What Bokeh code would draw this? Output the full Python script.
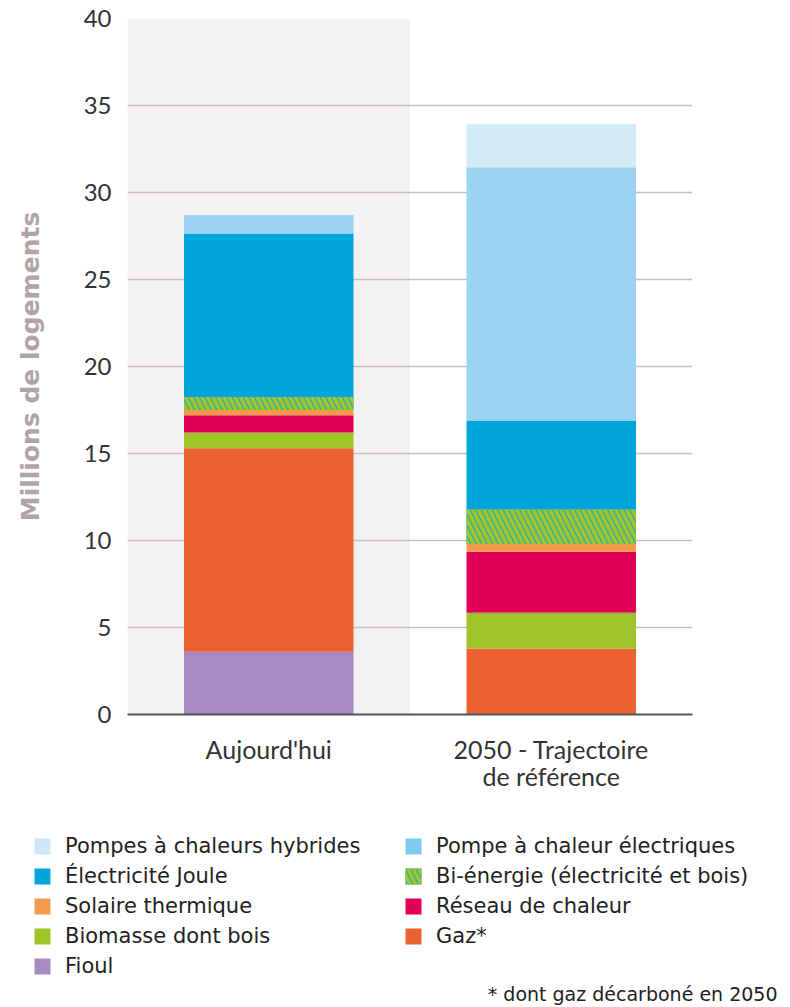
from bokeh.plotting import figure
from bokeh.models import (ColumnDataSource, FactorRange, Range1d, BoxAnnotation,
                          Legend, LegendItem, Label, FixedTicker)
from bokeh.transform import stack
from bokeh.embed import file_html
from bokeh.resources import INLINE

categories = ["Aujourd'hui", "2050 - Trajectoire\nde référence"]
series = ["Fioul", "Gaz*", "Biomasse dont bois", "Réseau de chaleur",
          "Solaire thermique", "Bi-énergie (électricité et bois)",
          "Électricité Joule", "Pompe à chaleur électriques",
          "Pompes à chaleurs hybrides"]
fioul = [3.6, 0.0]
gaz = [11.7, 3.8]
biomasse = [0.9, 2.05]
reseau = [1.0, 3.5]
solaire = [0.3, 0.45]
bienergie = [0.75, 2.0]
joule = [9.4, 5.1]
pac = [1.05, 14.55]
hybrides = [0.0, 2.5]
y_ticks = [0, 5, 10, 15, 20, 25, 30, 35, 40]
footnote = "* dont gaz décarboné en 2050"

colors = ["#a78abf", "#eb6232", "#a0c42a", "#df0058", "#f39b4b",
          "#00a4dc", "#00a4dc", "#9ad3f0", "#d4ebf8"]
legend_colors = ["#a78abf", "#eb6232", "#a0c42a", "#df0058", "#f39b4b",
                 "#00a4dc", "#00a4dc", "#7fcaee", "#cde8f8"]
HATCH = dict(hatch_pattern="left_diagonal_line", hatch_color="#a0c42a",
             hatch_weight=4, hatch_scale=11)

keys = ["fioul", "gaz", "biomasse", "reseau", "solaire", "bi", "joule", "pac", "hyb"]
src = ColumnDataSource(dict(cat=categories, fioul=fioul, gaz=gaz, biomasse=biomasse,
                            reseau=reseau, solaire=solaire, bi=bienergie, joule=joule,
                            pac=pac, hyb=hybrides))

# ---------------- main chart ----------------
p = figure(x_range=FactorRange(factors=categories, range_padding=0),
           y_range=Range1d(0, 40), width=774, height=808,
           output_backend="svg", toolbar_location=None,
           min_border_left=127, min_border_right=82, min_border_top=18,
           min_border_bottom=94)
p.outline_line_color = None
p.background_fill_color = "white"

p.add_layout(BoxAnnotation(left=0, right=1, fill_color="#f3f1f2", fill_alpha=1,
                           line_color=None, level="image"))

for i, k in enumerate(keys):
    bottom_keys = keys[:i]
    kw = HATCH if k == "bi" else {}
    p.vbar(x="cat", width=0.6, bottom=stack(*bottom_keys) if bottom_keys else 0,
           top=stack(*keys[:i + 1]), source=src, fill_color=colors[i],
           line_color=None, **kw)

p.ygrid.ticker = FixedTicker(ticks=y_ticks)
p.ygrid.grid_line_color = "#c9bec2"
p.ygrid.grid_line_width = 1.5
p.xgrid.grid_line_color = None

p.yaxis.ticker = FixedTicker(ticks=y_ticks)
p.yaxis.axis_line_color = None
p.yaxis.major_tick_line_color = None
p.yaxis.minor_tick_line_color = None
p.yaxis.major_label_text_font = "Lato"
p.yaxis.major_label_text_font_size = "24px"
p.yaxis.major_label_text_color = "#333333"
p.yaxis.major_label_standoff = 10
p.yaxis.axis_label = "Millions de logements"
p.yaxis.axis_label_text_font = "DejaVu Sans"
p.yaxis.axis_label_text_font_style = "bold"
p.yaxis.axis_label_text_font_size = "25px"
p.yaxis.axis_label_text_color = "#b1a4a8"
p.yaxis.axis_label_standoff = 36

p.xaxis.axis_line_color = "#555555"
p.xaxis.axis_line_width = 2
p.xaxis.major_tick_line_color = None
p.xaxis.minor_tick_line_color = None
p.xaxis.major_label_text_font = "Lato"
p.xaxis.major_label_text_font_size = "25px"
p.xaxis.major_label_text_color = "#333333"
p.xaxis.major_label_text_line_height = 0.93
p.xaxis.major_label_standoff = 13

# ---------------- legend panel ----------------
q = figure(width=782, height=197, x_range=FactorRange(factors=categories),
           y_range=Range1d(100, 101), output_backend="svg",
           toolbar_location=None, min_border=0)
q.axis.visible = False
q.grid.visible = False
q.outline_line_color = None

lr = []
for i, k in enumerate(keys):
    bottom_keys = keys[:i]
    kw = HATCH if k == "bi" else {}
    lr.append(q.vbar(x="cat", width=0.6,
                     bottom=stack(*bottom_keys) if bottom_keys else 0,
                     top=stack(*keys[:i + 1]), source=src,
                     fill_color=legend_colors[i], line_color=None, **kw))

order = [8, 6, 4, 2, 0, 7, 5, 3, 1]
legend = Legend(items=[LegendItem(label=series[i], renderers=[lr[i]]) for i in order],
                orientation="vertical", nrows=5, location=(32, 24),
                glyph_width=20, glyph_height=20, label_height=30, label_width=338,
                label_standoff=13, spacing=0, padding=0, margin=0,
                label_text_font="DejaVu Sans", label_text_font_size="21px",
                label_text_color="#222222", border_line_color=None,
                background_fill_alpha=0)
q.add_layout(legend)
q.add_layout(Label(x=777, y=1, x_units="screen", y_units="screen", text=footnote,
                   text_align="right", text_baseline="bottom",
                   text_font="DejaVu Sans", text_font_size="19px",
                   text_color="#222222"))

open("out.html", "w").write(file_html([p, q], INLINE))
